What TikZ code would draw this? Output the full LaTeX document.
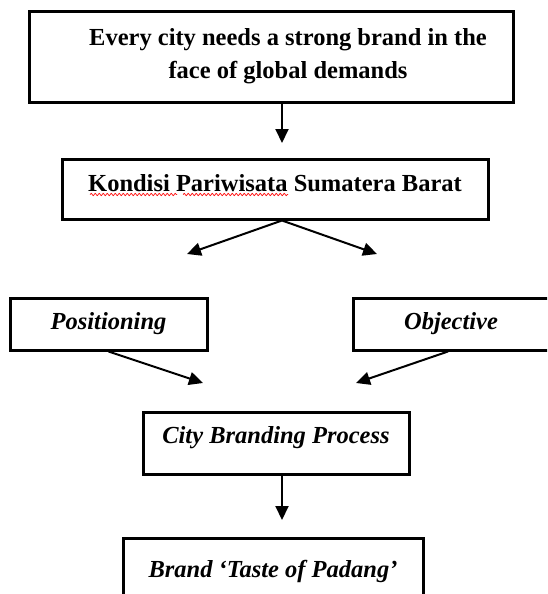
\documentclass[tikz,border=0pt]{standalone}
\usepackage{fontspec}
\setmainfont{Liberation Serif}
\usetikzlibrary{arrows.meta,positioning,decorations.pathmorphing}
\tikzset{
    % Boxes
    framebox/.style={
        rectangle,
        draw=black,
        line width=3pt,
        fill=white,
        inner sep=0pt,
        align=center,
        text height=16pt,
        text depth=6pt,
        font=\fontsize{24.5}{33}\selectfont\bfseries
    },
    italicbox/.style={
        framebox,
        font=\fontsize{24.5}{33}\selectfont\bfseries\itshape
    },
    % Arrows
    arrow/.style={
        -{Triangle[length=14pt,width=13pt]},
        line width=2pt,
        draw=black
    },
    % Spell-check mark
    spellmark/.style={
        draw=red,
        line width=0.7pt,
        decorate,
        decoration={snake, amplitude=1.1pt, segment length=4pt}
    }
}
\begin{document}
\begin{tikzpicture}[x=1pt, y=-1pt]

    \useasboundingbox (0,0) rectangle (547,594);
    \clip (0,0) rectangle (547,594);

    % Top statement
    \node[framebox, minimum width=484, minimum height=90] (need) at (271,57) {};
    \node[font=\fontsize{24.5}{33}\selectfont\bfseries, align=center] (needtext) at (288,56)
        {Every city needs a strong brand in the\\face of global demands};

    % Tourism condition
    \node[framebox, text depth=12pt, minimum width=426, minimum height=60] (kondisi) at (275,189) {Kondisi Pariwisata Sumatera Barat};

    % Two inputs
    \node[italicbox, minimum width=197, minimum height=52] (positioning) at (108.5,324) {Positioning};
    \node[italicbox, minimum width=196, minimum height=52] (objective) at (451,324) {Objective};

    % Process and result
    \node[italicbox, text depth=16pt, minimum width=266, minimum height=62] (process) at (276,443) {City Branding Process};
    \node[italicbox, text depth=0pt, minimum width=300, minimum height=62] (brand) at (273,569) {Brand ‘Taste of Padang’};

    % Arrow tips
    \coordinate (needtip) at (282,143);
    \coordinate (forkL) at (187,254);
    \coordinate (forkR) at (377,254);
    \coordinate (mergeL) at (203,383);
    \coordinate (mergeR) at (356,383);
    \coordinate (brandtip) at (282,520);

    % Arrows
    \draw[arrow] (need.south -| needtip) -- (needtip);
    \draw[arrow] (kondisi.south -| needtip) -- (forkL);
    \draw[arrow] (kondisi.south -| needtip) -- (forkR);
    \draw[arrow] (positioning.south) -- (mergeL);
    \draw[arrow] ([xshift=-3pt]objective.south) -- (mergeR);
    \draw[arrow] (process.south -| brandtip) -- (brandtip);

    % Spelling marks
    \draw[spellmark] (90,194.5) -- (177,194.5);
    \draw[spellmark] (183,194.5) -- (288,194.5);

\end{tikzpicture}
\end{document}
